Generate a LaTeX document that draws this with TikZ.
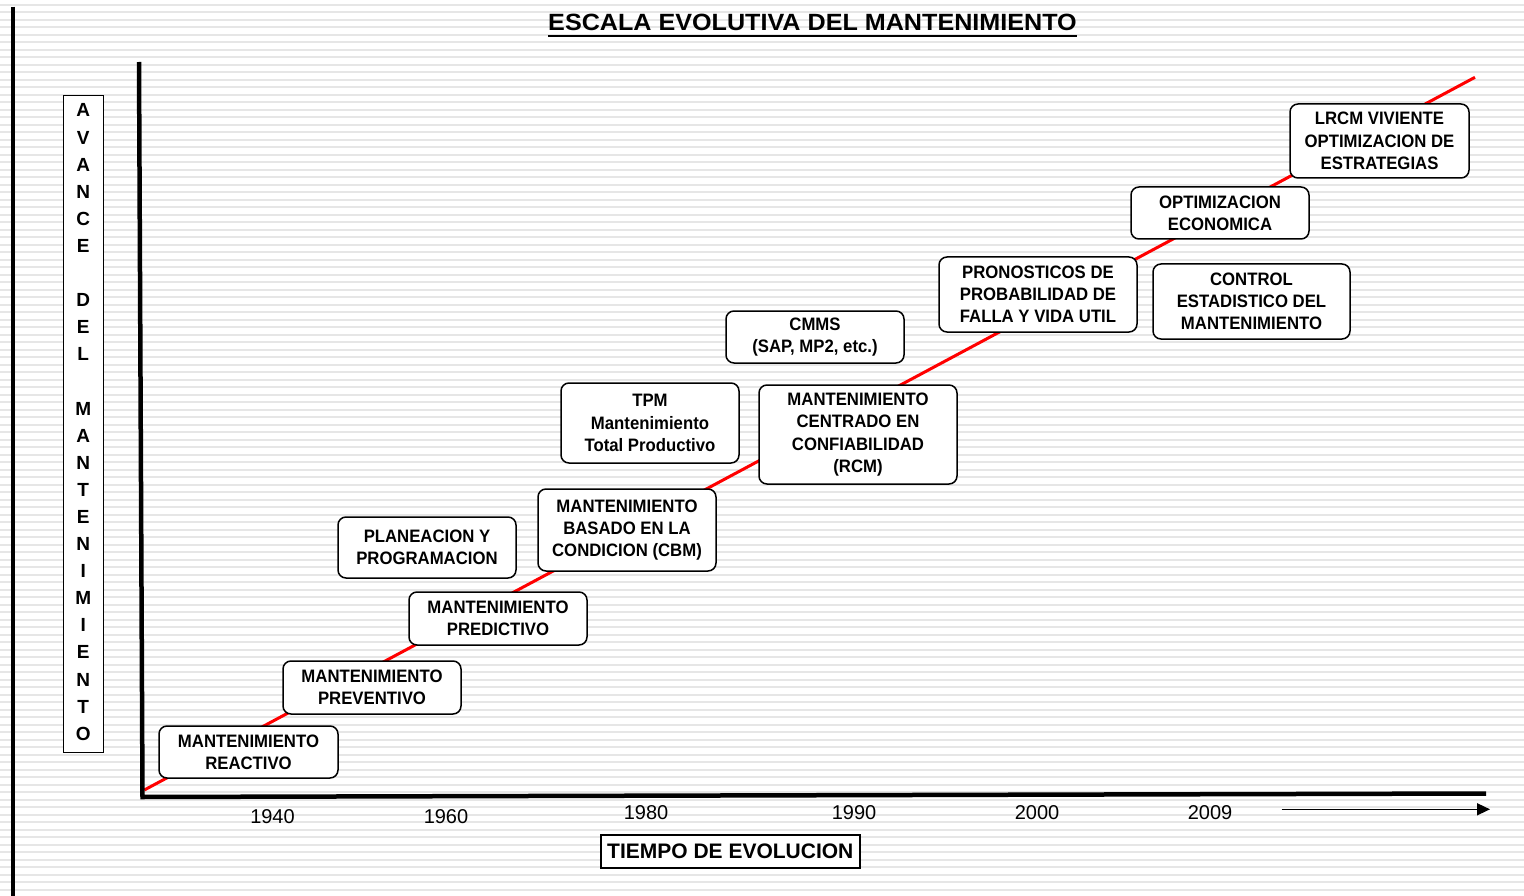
\documentclass[tikz,border=0pt]{standalone}
\usepackage{fontspec}
\setmainfont{Liberation Sans}
\newfontfamily\boxfont[FakeStretch=0.93]{Liberation Sans}
\newfontfamily\titlefont[FakeStretch=1.07]{Liberation Sans}
\usetikzlibrary{arrows.meta}
\definecolor{stripegray}{HTML}{E6E6E6}
\definecolor{lineRed}{HTML}{FF0000}
\begin{document}
\begin{tikzpicture}[x=1pt,y=-1pt,
  stripe/.style={draw=stripegray, line width=1.8pt},
  box/.style={draw, fill=white, rounded corners=8pt, line width=1.5pt, align=center, inner sep=0pt,
    font=\boxfont\bfseries\fontsize{18}{22.3}\selectfont},
  yearlbl/.style={inner sep=0pt, font=\fontsize{20}{24}\selectfont},
  axis/.style={line width=4.5pt, line join=miter},
  redline/.style={draw=lineRed, line width=3pt},
  plainbox/.style={draw, fill=white, line width=1.5pt, inner sep=0pt, align=center}]
\useasboundingbox (0,0) rectangle (1524,896);
\fill[white] (0,0) rectangle (1524,896);
\foreach \i in {0,...,119} {\draw[stripe] (0,4.7+7.5*\i) -- (1524,4.7+7.5*\i);}
% frame line at left
\coordinate (ltop) at (13,6.7);
\coordinate (lbot) at (13,896);
\draw[line width=4pt] (ltop) -- (lbot);
% title
\node[inner sep=0pt, anchor=base, font=\titlefont\bfseries\fontsize{23.5}{28}\selectfont] (title) at (812.5,31) {ESCALA EVOLUTIVA DEL MANTENIMIENTO};
\draw[line width=2.6pt] ([yshift=-5pt]title.base west) -- ([yshift=-5pt]title.base east);
% red line
\coordinate (r0) at (144.3,790);
\coordinate (r1) at (1475,77.3);
\draw[redline] (r0) -- (r1);
% axes
\coordinate (ytop) at (139,62);
\coordinate (orig) at (142.5,797);
\coordinate (xend) at (1486,793.5);
\draw[axis] (ytop) -- (orig) -- (xend);
% vertical label
\node[plainbox, minimum width=40pt, minimum height=657pt] (vframe) at (83.3,424.2) {};
\node[inner sep=0pt, align=center, font=\bfseries\fontsize{19}{27.1}\selectfont] (vlabel) at (83.3,422.2)
 {A\\V\\A\\N\\C\\E\\\mbox{}\\D\\E\\L\\\mbox{}\\M\\A\\N\\T\\E\\N\\I\\M\\I\\E\\N\\T\\O};
% boxes
\node[box, minimum width=179pt, minimum height=52pt] (b1) at (248.5,752) {MANTENIMIENTO\\REACTIVO};
\node[box, minimum width=178pt, minimum height=53pt] (b2) at (372,687.5) {MANTENIMIENTO\\PREVENTIVO};
\node[box, minimum width=178pt, minimum height=53pt] (b3) at (498,618.5) {MANTENIMIENTO\\PREDICTIVO};
\node[box, minimum width=178pt, minimum height=61pt] (b4) at (427,547.5) {PLANEACION Y\\PROGRAMACION};
\node[box, minimum width=178pt, minimum height=82pt] (b5) at (627,530) {MANTENIMIENTO\\BASADO EN LA\\CONDICION (CBM)};
\node[box, minimum width=178pt, minimum height=80pt] (b6) at (650,423) {TPM\\Mantenimiento\\Total Productivo};
\node[box, minimum width=198pt, minimum height=99pt] (b7) at (858,434.5) {MANTENIMIENTO\\CENTRADO EN\\CONFIABILIDAD\\(RCM)};
\node[box, minimum width=178pt, minimum height=52pt] (b8) at (815,337) {CMMS\\(SAP, MP2, etc.)};
\node[box, minimum width=198pt, minimum height=75pt] (b9) at (1038,294.5) {PRONOSTICOS DE\\PROBABILIDAD DE\\FALLA Y VIDA UTIL};
\node[box, minimum width=197pt, minimum height=75pt] (b10) at (1251.5,301.5) {CONTROL\\ESTADISTICO DEL\\MANTENIMIENTO};
\node[box, minimum width=178pt, minimum height=52pt] (b11) at (1220,213) {OPTIMIZACION\\ECONOMICA};
\node[box, minimum width=179pt, minimum height=74pt] (b12) at (1379.5,141) {LRCM VIVIENTE\\OPTIMIZACION DE\\ESTRATEGIAS};
% years
\node[yearlbl] (y1940) at (272.5,816.3) {1940};
\node[yearlbl] (y1960) at (446,816.3) {1960};
\node[yearlbl] (y1980) at (646,813) {1980};
\node[yearlbl] (y1990) at (854,813) {1990};
\node[yearlbl] (y2000) at (1037,813) {2000};
\node[yearlbl] (y2009) at (1210,813) {2009};
% arrow
\coordinate (a0) at (1281.7,809.3);
\coordinate (a1) at (1490,809.3);
\draw[line width=1.6pt, -{Triangle[length=13pt,width=12pt]}] (a0) -- (a1);
% axis title
\node[plainbox, minimum width=259pt, minimum height=33pt, font=\bfseries\fontsize{21}{26}\selectfont] (tiempo) at (730.3,851.7) {TIEMPO DE EVOLUCION};
\end{tikzpicture}
\end{document}
